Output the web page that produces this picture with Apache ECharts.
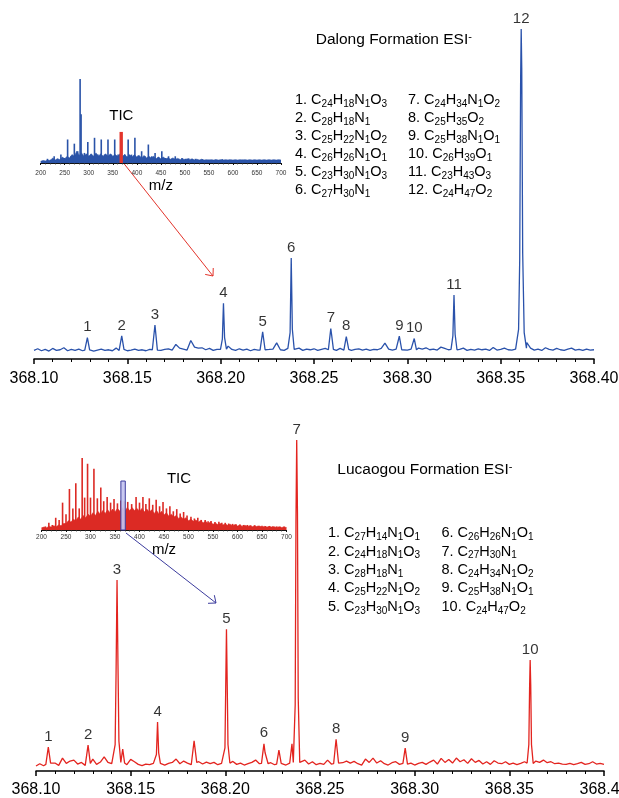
<!DOCTYPE html>
<html>
<head>
<meta charset="utf-8">
<script src="https://cdn.jsdelivr.net/npm/echarts@6/dist/echarts.min.js"></script>
<style>
  html, body { margin: 0; padding: 0; background: #fff; }
  #chart { width: 619px; height: 798px; }
</style>
</head>
<body>
<div id="chart"></div>
<script>
// ---------- data ----------
// main spectra: baseline noise sampled every 0.002 m/z from 368.10
var mzStart = 368.10, mzStep = 0.002;

var topNoise = [
  2.6, 3.1, 2.5, 2.9, 2.4, 3.2, 2.6, 2.8, 3.4, 2.5,
  2.9, 2.6, 3.0, 2.5, 2.8, 3.1, 2.4, 2.7, 3.0, 2.6,
  2.8, 2.5, 3.3, 2.6, 2.9, 2.5, 2.7, 3.0, 2.6, 2.8,
  2.5, 2.9, 2.7, 3.0, 2.6, 2.9, 3.1, 2.7, 4.4, 3.3,
  3.0, 2.7, 5.6, 3.6, 3.3, 3.4, 2.8, 3.2, 2.6, 2.9,
  2.8, 3.0, 3.9, 2.9, 2.6, 3.1, 2.7, 3.0, 2.5, 2.9,
  2.7, 3.1, 2.6, 2.9, 3.0, 4.9, 2.8, 2.6, 3.2, 2.8,
  2.7, 3.3, 2.6, 3.0, 2.8, 3.1, 2.6, 2.9, 3.2, 2.7,
  2.9, 2.6, 3.2, 2.7, 3.0, 2.6, 2.9, 3.1, 2.7, 3.0,
  2.6, 2.9, 2.8, 3.2, 4.8, 3.0, 2.7, 3.0, 2.6, 2.9,
  2.7, 3.0, 2.6, 3.3, 3.0, 3.4, 2.8, 3.0, 2.7, 3.6,
  3.2, 2.8, 3.1, 2.6, 2.9, 3.3, 2.6, 2.9, 2.7, 3.1,
  2.8, 3.0, 2.6, 3.5, 2.7, 2.9, 3.3, 2.8, 2.7, 3.0,
  2.9, 2.8, 5.0, 3.3, 2.7, 3.0, 2.6, 3.4, 2.9, 2.7,
  3.2, 2.8, 2.6, 3.0, 3.3, 2.7, 2.9, 2.6, 3.0, 2.7,
  2.8
];

// peaks: [m/z, relative intensity] points
var topPeaks = [
  [[368.1272, 2.7], [368.1286, 6.5], [368.1298, 2.8]],
  [[368.1456, 2.6], [368.1470, 7.0], [368.1482, 2.9]],
  [[368.1634, 2.8], [368.1648, 10.3], [368.1661, 2.7]],
  [[368.1999, 2.9], [368.2009, 6.0], [368.2015, 16.9], [368.2021, 6.5], [368.2031, 3.0]],
  [[368.2211, 2.7], [368.2225, 8.2], [368.2238, 2.8]],
  [[368.2362, 2.8], [368.2372, 8.0], [368.2378, 30.6], [368.2384, 9.0], [368.2394, 2.9]],
  [[368.2577, 2.8], [368.2590, 9.2], [368.2594, 7.5], [368.2604, 2.9]],
  [[368.2660, 2.7], [368.2673, 6.8], [368.2686, 2.9]],
  [[368.2944, 2.9], [368.2957, 6.9], [368.2970, 2.8]],
  [[368.3025, 2.6], [368.3037, 6.2], [368.3049, 2.8]],
  [[368.3234, 2.9], [368.3244, 7.0], [368.3250, 19.4], [368.3256, 7.5], [368.3266, 2.8]],
  [[368.3584, 3.2], [368.3596, 9.0], [368.3602, 30], [368.3607, 85], [368.3610, 100],
   [368.3613, 88], [368.3618, 32], [368.3626, 8.0], [368.3638, 3.3]]
];
var topPeakLabels = ['1', '2', '3', '4', '5', '6', '7', '8', '9', '10', '11', '12'];

var botNoise = [
  1.5, 2.2, 1.6, 2.6, 1.9, 2.4, 1.7, 3.9, 2.3, 3.0,
  3.3, 2.1, 2.6, 1.7, 2.2, 3.6, 2.0, 2.7, 4.3, 2.6,
  2.2, 1.8, 2.4, 2.6, 1.9, 3.5, 2.8, 2.0, 1.6, 2.1,
  1.9, 2.3, 1.7, 2.5, 1.8, 2.3, 2.6, 3.6, 2.2, 3.0,
  2.4, 1.9, 2.2, 2.8, 2.1, 2.7, 2.2, 2.6, 1.9, 2.3,
  2.1, 1.8, 2.9, 2.0, 2.4, 1.8, 2.2, 2.6, 3.3, 2.2,
  2.4, 2.0, 2.5, 1.9, 2.2, 2.0, 1.8, 2.4, 2.0, 2.2,
  2.6, 3.3, 2.1, 2.8, 1.9, 2.3, 2.0, 3.3, 2.1, 2.4,
  1.9, 2.5, 3.0, 2.4, 2.9, 2.2, 1.8, 3.6, 2.6, 3.9,
  2.4, 3.1, 2.2, 1.8, 2.5, 2.8, 2.0, 2.6, 2.1, 2.4,
  1.8, 2.3, 2.6, 2.0, 2.7, 3.3, 2.1, 3.8, 2.6, 3.5,
  2.4, 3.9, 2.8, 3.4, 2.3, 3.7, 2.6, 3.2, 2.1, 2.8,
  2.0, 3.1, 2.4, 2.2, 2.8, 2.0, 2.4, 1.9, 2.3, 2.8,
  2.2, 2.5, 3.0, 2.6, 3.3, 2.5, 2.8, 2.2, 2.4, 2.1,
  2.0, 2.3, 1.9, 2.2, 2.6, 2.0, 2.2, 2.8, 2.1, 2.3,
  2.0
];

var botPeaks = [
  [[368.1052, 2.0], [368.1065, 7.2], [368.1077, 2.4]],
  [[368.1262, 2.1], [368.1275, 7.8], [368.1287, 2.3]],
  [[368.1408, 2.2], [368.1418, 8.0], [368.1423, 30], [368.1428, 57.7], [368.1433, 32], [368.1438, 9.0], [368.1448, 2.6]],
  [[368.1450, 2.8], [368.1458, 6.6], [368.1468, 2.4]],
  [[368.1627, 2.1], [368.1636, 5.0], [368.1642, 14.8], [368.1648, 5.5], [368.1657, 2.3]],
  [[368.1821, 2.3], [368.1835, 9.1], [368.1849, 2.6]],
  [[368.1988, 2.2], [368.1998, 7.0], [368.2002, 25], [368.2006, 42.8], [368.2010, 26], [368.2014, 8.0], [368.2024, 2.4]],
  [[368.2191, 2.3], [368.2204, 8.2], [368.2210, 5.5], [368.2215, 6.0], [368.2226, 2.2]],
  [[368.2271, 2.1], [368.2283, 6.3], [368.2295, 2.3]],
  [[368.2342, 2.2], [368.2352, 8.2], [368.2359, 2.6]],
  [[368.2362, 2.8], [368.2369, 20], [368.2373, 75], [368.2377, 100], [368.2381, 78], [368.2385, 22], [368.2393, 2.6]],
  [[368.2572, 2.2], [368.2585, 9.6], [368.2598, 2.4]],
  [[368.2938, 2.3], [368.2950, 6.9], [368.2962, 2.1]],
  [[368.3594, 2.4], [368.3603, 8.0], [368.3607, 25], [368.3610, 33.5], [368.3613, 26], [368.3617, 8.0], [368.3626, 2.3]]
];
var botPeakLabels = ['1', '2', '3', '', '4', '', '5', '6', '', '', '7', '8', '9', '10'];

// TIC insets: envelope every 5 m/z from 200, plus spikes
var ticStart = 200, ticStep = 5;
var topTicBase = [
  2, 3, 2.5, 3.5, 3, 6, 3.5, 5, 4, 7,
  5, 8, 6, 10, 8, 14, 9, 12, 8, 11,
  8, 11, 8, 12, 8, 11, 8, 11, 8, 11,
  8, 10, 8, 11, 8, 10, 7, 10, 7, 10,
  7, 9, 6, 9, 6, 8, 6, 8, 5, 7,
  5, 7, 5, 6, 4.5, 6, 4.5, 5.5, 4, 5,
  4, 5, 4, 5, 3.5, 4.5, 3.5, 4.5, 3.5, 4,
  3.5, 4, 3.5, 4, 3.5, 4, 3.5, 4, 3.5, 4,
  3.5, 4, 3.5, 4, 3.5, 4, 3.5, 4, 3.5, 4,
  3.5, 4, 3.5, 4, 3.5, 4, 3.5, 4, 3.5, 4,
  3.5
];
var topTicMz = [214, 221, 228, 235, 242, 249, 256, 263, 270, 277, 282, 284, 291, 298, 305,
  312, 319, 326, 333, 340, 347, 354, 361, 368, 375, 382, 389, 396, 403, 410, 417, 424, 431,
  438, 445, 452, 459, 466, 473, 480, 487, 494, 501, 508, 515, 522, 536, 550, 564, 578, 592,
  606, 620, 634, 648, 662, 676, 690];
var topTicH = [5, 4, 8, 5, 10, 6, 28, 8, 23, 14, 100, 58, 12, 25, 10,
  30, 10, 28, 10, 28, 10, 28, 10, 27, 10, 28, 10, 30, 9, 14, 8, 22, 8,
  12, 7, 14, 6, 8, 5, 8, 5, 6, 5, 5.5, 4.5, 5, 4.5, 4, 4, 4.5, 4,
  3.5, 4, 3.5, 3.5, 3.5, 3.5, 3.5];

var botTicBase = [
  3, 4, 3, 5, 4, 6, 4.5, 7, 6, 9,
  9, 13, 11, 15, 13, 18, 15, 20, 17, 22,
  19, 24, 20, 26, 22, 27, 23, 28, 24, 29,
  25, 30, 26, 31, 26, 31, 27, 31, 27, 30,
  26, 30, 25, 29, 25, 28, 23, 27, 22, 26,
  21, 24, 19, 22, 18, 20, 16, 18, 15, 17,
  13, 15, 12, 14, 11, 13, 10, 12, 9, 11,
  8, 9.5, 7.5, 9, 7, 8.5, 6.5, 8, 6, 7.5,
  5.5, 7, 5, 6.5, 5, 6, 4.5, 6, 4.5, 5.5,
  4, 5, 4, 5, 4, 4.5, 3.5, 4.5, 3.5, 4,
  3.5
];
var botTicMz = [208, 215, 222, 229, 236, 243, 250, 257, 264, 270, 277, 283, 288, 294, 300,
  307, 314, 321, 327, 334, 341, 348, 355, 362, 369, 376, 384, 393, 400, 407, 413, 420, 427,
  434, 441, 448, 455, 462, 469, 476, 483, 490, 497, 505, 512, 519, 526, 534, 540, 546, 554,
  562, 568, 575, 582, 590, 597, 605, 612, 620, 627, 635, 642, 650, 657, 665, 672, 680, 687, 695];
var botTicH = [5, 10, 7, 17, 14, 38, 22, 57, 30, 65, 30, 100, 45, 92, 45,
  85, 44, 59, 40, 46, 38, 43, 37, 41, 40, 39, 36, 46, 38, 46, 36, 44, 35,
  42, 33, 39, 30, 33, 26, 29, 23, 25, 20, 18.5, 16, 17, 14, 14, 12, 12.5, 11,
  11.5, 10, 10, 9, 8.5, 8, 7.5, 7, 7, 6.5, 6.5, 6, 6, 5.5, 5.5, 5, 5, 4.5, 5];

var topFormulas = ['C24H18N1O3', 'C28H18N1', 'C25H22N1O2', 'C26H26N1O1', 'C23H30N1O3', 'C27H30N1',
  'C24H34N1O2', 'C25H35O2', 'C25H38N1O1', 'C26H39O1', 'C23H43O3', 'C24H47O2'];
var botFormulas = ['C27H14N1O1', 'C24H18N1O3', 'C28H18N1', 'C25H22N1O2', 'C23H30N1O3',
  'C26H26N1O1', 'C27H30N1', 'C24H34N1O2', 'C25H38N1O1', 'C24H47O2'];

// ---------- helpers ----------
var F = "'Liberation Sans', Arial, Helvetica, sans-serif";
var ink = '#000';

function buildSpectrum(noise, peaks) {
  var pts = [];
  noise.forEach(function (v, i) {
    var mz = mzStart + i * mzStep;
    var covered = peaks.some(function (p) {
      return mz >= p[0][0] && mz <= p[p.length - 1][0];
    });
    if (!covered) pts.push([mz, v]);
  });
  peaks.forEach(function (p) {
    p.forEach(function (q) { pts.push(q); });
  });
  pts.sort(function (a, b) { return a[0] - b[0]; });
  return pts;
}

function peakLabels(peaks, labels) {
  var out = [];
  peaks.forEach(function (p, i) {
    if (!labels[i]) return;
    var top = p[0];
    p.forEach(function (q) { if (q[1] > top[1]) top = q; });
    out.push({ name: labels[i], value: top });
  });
  return out;
}

function ticBase(arr) {
  return arr.map(function (v, i) { return [ticStart + i * ticStep, v]; });
}

function pairs(xs, ys) {
  return xs.map(function (x, i) { return [x, ys[i]]; });
}

// "C24H18N1O3" -> rich text with subscripts
function richFormula(s) {
  return s.replace(/([A-Za-z]+)|(\d+)/g, function (m, letters, digits) {
    return letters ? '{n|' + letters + '}' : '{s|' + digits + '}';
  });
}

function formulaBlock(list, first, x, y, lh) {
  var lines = list.map(function (f, i) {
    return '{n|' + (first + i) + '. }' + richFormula(f);
  });
  return {
    type: 'text', x: x, y: y, silent: true,
    style: {
      text: lines.join('\n'),
      align: 'left', verticalAlign: 'top',
      rich: {
        n: { fontSize: 14.5, fontFamily: F, fill: ink, lineHeight: lh },
        s: { fontSize: 10, fontFamily: F, fill: ink, lineHeight: 11, verticalAlign: 'bottom' }
      }
    }
  };
}

function titleText(txt, x, y) {
  return {
    type: 'text', x: x, y: y, silent: true,
    style: {
      text: '{t|' + txt + '}{p|-}',
      align: 'left', verticalAlign: 'middle',
      rich: {
        t: { fontSize: 15.5, fontFamily: F, fill: ink, lineHeight: 18 },
        p: { fontSize: 11, fontFamily: F, fill: ink, lineHeight: 9, verticalAlign: 'top' }
      }
    }
  };
}

function plainText(txt, x, y, size) {
  return {
    type: 'text', x: x, y: y, silent: true,
    style: { text: txt, fontSize: size, fontFamily: F, fill: ink, align: 'center', verticalAlign: 'middle' }
  };
}

function arrow(x1, y1, x2, y2, color) {
  var ang = Math.atan2(y2 - y1, x2 - x1);
  var len = 8, spread = 0.7;
  var a1 = ang + Math.PI - spread, a2 = ang + Math.PI + spread;
  return [
    { type: 'line', silent: true, shape: { x1: x1, y1: y1, x2: x2, y2: y2 },
      style: { stroke: color, lineWidth: 1 } },
    { type: 'polyline', silent: true,
      shape: { points: [[x2 + len * Math.cos(a1), y2 + len * Math.sin(a1)], [x2, y2],
                        [x2 + len * Math.cos(a2), y2 + len * Math.sin(a2)]] },
      style: { stroke: color, lineWidth: 1, fill: 'none' } }
  ];
}

function mainXAxis(grid, margin) {
  return {
    gridIndex: grid, type: 'value', min: 368.10, max: 368.40, interval: 0.05,
    axisLine: { onZero: false, lineStyle: { color: '#000', width: 1.5 } },
    axisTick: { length: 5, lineStyle: { color: '#000', width: 1.5 } },
    minorTick: { show: true, splitNumber: 5, length: 3, lineStyle: { color: '#000', width: 1 } },
    splitLine: { show: false },
    axisLabel: {
      formatter: function (v) { return v.toFixed(2); },
      fontSize: 16, color: ink, fontFamily: F, margin: margin,
      showMinLabel: true, showMaxLabel: true
    }
  };
}

function insetXAxis(grid, margin) {
  return {
    gridIndex: grid, type: 'value', min: 200, max: 700, interval: 50,
    axisLine: { onZero: false, lineStyle: { color: '#111', width: 1 } },
    axisTick: { length: 2, lineStyle: { color: '#111', width: 1 } },
    minorTick: { show: true, splitNumber: 5, length: 1.5, lineStyle: { color: '#333', width: 0.8 } },
    splitLine: { show: false },
    axisLabel: { fontSize: 6.5, color: '#333', fontFamily: F, margin: margin,
      showMinLabel: true, showMaxLabel: true }
  };
}

function hiddenY(grid) {
  return { gridIndex: grid, type: 'value', min: 0, max: 100, show: false, splitLine: { show: false } };
}

// ---------- chart ----------
var chart = echarts.init(document.getElementById('chart'), null, { renderer: 'canvas' });

var blue = '#2a52ab', red = '#e3241f';

var option = {
  animation: false,
  backgroundColor: '#fff',
  grid: [
    { left: 34, right: 25, top: 29, bottom: 439, outerBoundsMode: 'none' },
    { left: 36, right: 15, top: 440, bottom: 27, outerBoundsMode: 'none' },
    { left: 40.7, right: 338, top: 79, bottom: 635, outerBoundsMode: 'none' },
    { left: 41.5, right: 332.5, top: 458, bottom: 268, outerBoundsMode: 'none' }
  ],
  xAxis: [mainXAxis(0, 12), mainXAxis(1, 11), insetXAxis(2, 7), insetXAxis(3, 3.5)],
  yAxis: [hiddenY(0), hiddenY(1), hiddenY(2), hiddenY(3)],
  series: [
    {
      type: 'line', xAxisIndex: 0, yAxisIndex: 0, showSymbol: false, silent: true,
      lineStyle: { color: blue, width: 1.3 },
      data: buildSpectrum(topNoise, topPeaks)
    },
    {
      type: 'scatter', xAxisIndex: 0, yAxisIndex: 0, symbolSize: 0, silent: true,
      label: { show: true, position: 'top', distance: 3, formatter: '{b}',
        fontSize: 15, color: ink, fontFamily: F },
      data: peakLabels(topPeaks, topPeakLabels)
    },
    {
      type: 'line', xAxisIndex: 1, yAxisIndex: 1, showSymbol: false, silent: true,
      lineStyle: { color: red, width: 1.3 },
      data: buildSpectrum(botNoise, botPeaks)
    },
    {
      type: 'scatter', xAxisIndex: 1, yAxisIndex: 1, symbolSize: 0, silent: true,
      label: { show: true, position: 'top', distance: 3, formatter: '{b}',
        fontSize: 15, color: ink, fontFamily: F },
      data: peakLabels(botPeaks, botPeakLabels)
    },
    {
      type: 'line', xAxisIndex: 2, yAxisIndex: 2, showSymbol: false, silent: true,
      lineStyle: { color: '#2a53a8', width: 0.6 },
      areaStyle: { color: '#2a53a8', opacity: 1 },
      data: ticBase(topTicBase)
    },
    {
      type: 'bar', xAxisIndex: 2, yAxisIndex: 2, barWidth: 1.6, silent: true,
      itemStyle: { color: '#2a53a8' },
      data: pairs(topTicMz, topTicH),
      markArea: {
        silent: true, z: 5,
        itemStyle: { color: '#e3342b', opacity: 1 },
        data: [[{ xAxis: 364, yAxis: 0 }, { xAxis: 371, yAxis: 37 }]]
      }
    },
    {
      type: 'line', xAxisIndex: 3, yAxisIndex: 3, showSymbol: false, silent: true,
      lineStyle: { color: '#dc2a24', width: 0.6 },
      areaStyle: { color: '#dc2a24', opacity: 1 },
      data: ticBase(botTicBase)
    },
    {
      type: 'bar', xAxisIndex: 3, yAxisIndex: 3, barWidth: 1.6, silent: true,
      itemStyle: { color: '#dc2a24' },
      data: pairs(botTicMz, botTicH),
      markArea: {
        silent: true, z: 5,
        itemStyle: { color: 'rgba(196,196,240,0.92)', borderColor: '#3c3c9e', borderWidth: 1, opacity: 1 },
        data: [[{ xAxis: 362, yAxis: 0 }, { xAxis: 371, yAxis: 68 }]]
      }
    }
  ],
  graphic: {
    elements: [
      titleText('Dalong Formation ESI', 315.7, 40),
      formulaBlock(topFormulas.slice(0, 6), 1, 295, 91, 18),
      formulaBlock(topFormulas.slice(6), 7, 408, 91, 18),
      titleText('Lucaogou Formation ESI', 337.3, 470),
      formulaBlock(botFormulas.slice(0, 5), 1, 328, 524, 18.35),
      formulaBlock(botFormulas.slice(5), 6, 441.5, 524, 18.35),
      plainText('TIC', 121.3, 116, 15),
      plainText('m/z', 160.8, 186, 15),
      plainText('TIC', 179, 479, 15),
      plainText('m/z', 164, 550, 15)
    ].concat(arrow(123.5, 163, 213, 276, '#e3342b'))
     .concat(arrow(126, 533, 216, 603, '#3c3c9e'))
  }
};

chart.setOption(option);
</script>
</body>
</html>
